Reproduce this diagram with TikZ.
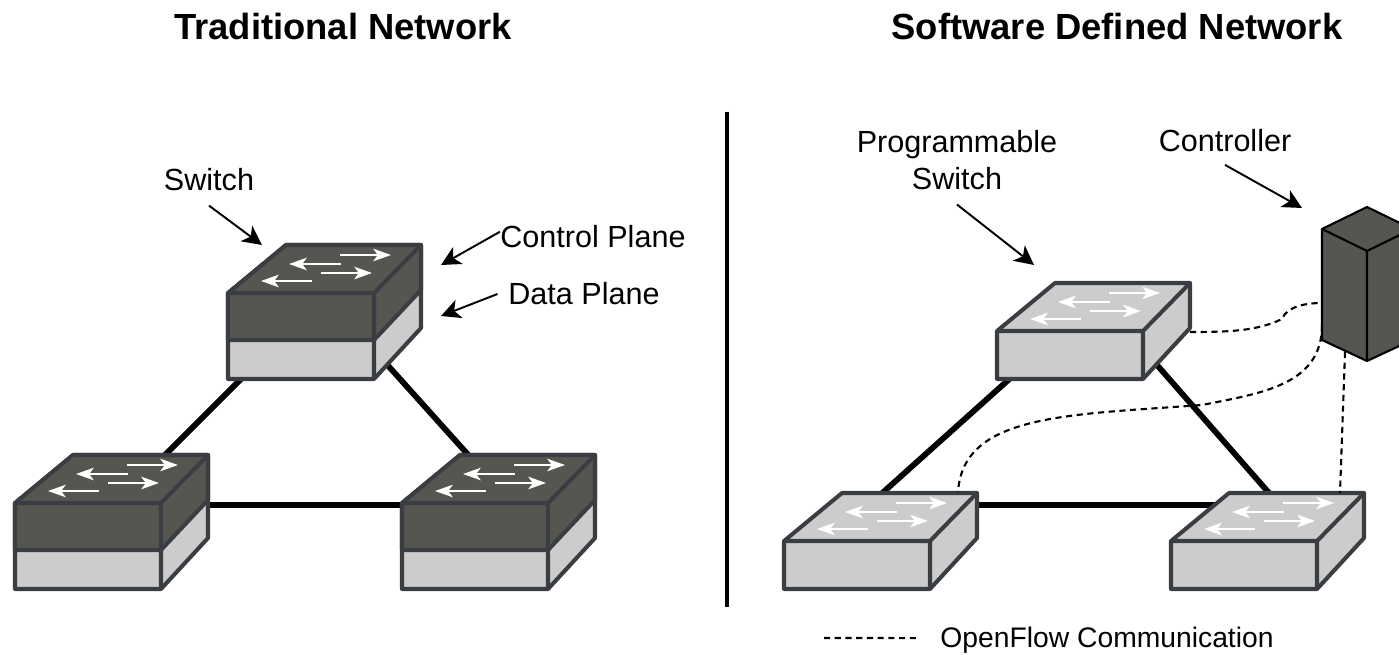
\documentclass[tikz,border=0pt]{standalone}
\usepackage{fontspec}
\setmainfont{Liberation Sans}
\usetikzlibrary{arrows.meta,calc}
\definecolor{planedark}{HTML}{555650}
\definecolor{planelight}{HTML}{CCCCCC}
\definecolor{boxedge}{HTML}{3A3D42}
\newcommand{\switchbox}[2]{
\filldraw[box] (0,0) -- (58,-48) -- (193,-48) -- (193,#1-51) -- (146,#1) -- (0,#1) -- cycle;
\draw[boxline] (0,0) -- (146,0) -- (193,-48) (146,0) -- (146,#1);
#2
\foreach \A/\B/\Y in {112/163/-38,113/61/-29,93/144/-20,84/33/-12}
{\draw[flow] (\A,\Y) -- (\B,\Y);}
}
\tikzset{
box/.style={draw=boxedge,fill=planelight,line width=2.3pt,line join=round},
boxline/.style={draw=boxedge,line width=2.3pt,line join=round},
flow/.style={white,line width=1.5pt,-{Stealth[length=10pt,width=7pt,inset=2.5pt]}},
link/.style={black,line width=3.3pt},
pointer/.style={black,line width=1.1pt,-{Stealth[length=11pt,width=11pt,inset=3pt]}},
openflow/.style={black,line width=1.2pt,dash pattern=on 3.5pt off 2.6pt},
label/.style={font=\fontsize{17.4pt}{20pt}\selectfont,inner sep=0pt,align=center},
headline/.style={font=\bfseries\fontsize{20.7pt}{24pt}\selectfont,inner sep=0pt},
ctrlswitch/.pic={\switchbox{86}{
\filldraw[box,fill=planedark] (0,0) -- (58,-48) -- (193,-48) -- (193,-3) -- (146,47) -- (0,47) -- cycle;
\draw[boxline] (0,0) -- (146,0) -- (193,-48) (146,0) -- (146,47);
}},
progswitch/.pic={\switchbox{48}{}}
}
\begin{document}
\begin{tikzpicture}[x=0.02cm,y=-0.02cm]
\clip (0,0) rectangle (1399,655);
\coordinate (swA) at (228,293);
\coordinate (swB) at (15,503);
\coordinate (swC) at (402,503);
\coordinate (swD) at (997,331);
\coordinate (swE) at (784,541);
\coordinate (swF) at (1171,541);
\coordinate (ctrl) at (1322,229);
\node[headline] (titleA) at (343,27) {Traditional Network};
\node[headline] (titleB) at (1117,27) {Software Defined Network};
\coordinate (ruleT) at (727,112);
\coordinate (ruleB) at (727,607);
\draw[link,line width=2.2pt] (ruleT) -- (ruleB);
\draw[link] ([shift={(30,69)}]swA) -- ([shift={(135,-33)}]swB);
\draw[link] ([shift={(146,57)}]swA) -- ([shift={(78,-35)}]swC);
\draw[link] ([shift={(180,2)}]swB) -- ([shift={(10,2)}]swC);
\draw[link] ([shift={(28,34)}]swD) -- ([shift={(76,-28)}]swE);
\draw[link] ([shift={(146,18)}]swD) -- ([shift={(112,-32)}]swF);
\draw[link] ([shift={(180,-36)}]swE) -- ([shift={(54,-36)}]swF);
\pic at (swA) {ctrlswitch};
\pic at (swB) {ctrlswitch};
\pic at (swC) {ctrlswitch};
\pic at (swD) {progswitch};
\pic at (swE) {progswitch};
\pic at (swF) {progswitch};
\filldraw[black,line width=1.2pt,line join=round,fill=planedark] (ctrl) -- ++(45,-22) -- ++(45,22) -- ++(0,111) -- ++(-45,21) -- ++(-45,-21) -- cycle;
\draw[black,line width=1.2pt,line join=round] (ctrl) -- ++(45,22) -- ++(45,-22) ++(-45,22) -- ++(0,110);
\draw[openflow] ([shift={(193,1)}]swD) .. controls ++(40,0) and ++(-25,12) .. ([shift={(-40,90)}]ctrl) .. controls ++(5,-13) and ++(-15,0) .. ([shift={(0,74)}]ctrl);
\draw[openflow] ([shift={(0,96)}]ctrl) .. controls ++(0,60) and ++(60,-12) .. ([shift={(-120,176)}]ctrl) .. controls ++(-135,10) and ++(5,-78) .. ([shift={(174,-49)}]swE);
\draw[openflow] ([shift={(23,123)}]ctrl) -- ([shift={(169,-48)}]swF);
\node[label,font=\fontsize{16.1pt}{19pt}\selectfont,anchor=west] (legendtext) at (940,640) {OpenFlow Communication};
\coordinate (legendA) at (824,638);
\draw[openflow] (legendA) -- ([xshift=-12.5pt,yshift=1.1pt]legendtext.west);
\node[label] (lblswitch) at (209,180) {Switch};
\node[label,anchor=west] (lblcontrol) at (500,237) {Control Plane};
\node[label,anchor=west] (lbldata) at (508,294) {Data Plane};
\node[label] (lblprog) at (957,160) {Programmable\\[1.5pt]Switch};
\node[label] (lblctrl) at (1225,141) {Controller};
\draw[pointer] ([yshift=-8pt]lblswitch.south) -- ([shift={(34,-48)}]swA);
\draw[pointer] ([yshift=3pt]lblcontrol.west) -- ([shift={(213,-28)}]swA);
\draw[pointer] ([xshift=-6pt]lbldata.west) -- ([shift={(213,23)}]swA);
\draw[pointer] ([yshift=-8pt]lblprog.south) -- ([shift={(37,-66)}]swD);
\draw[pointer] ([yshift=-7pt]lblctrl.south) -- ([shift={(-20,-21)}]ctrl);
\end{tikzpicture}
\end{document}
